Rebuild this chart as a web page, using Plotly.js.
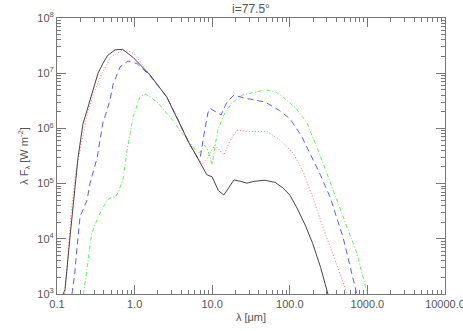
<!DOCTYPE html>
<html>
<head>
<meta charset="utf-8">
<script src="https://cdn.plot.ly/plotly-3.0.1.min.js"></script>
<style>
  body { margin: 0; background: #fff; }
  #plot { width: 463px; height: 331px; }
</style>
</head>
<body>
<div id="plot"></div>
<script>
// wavelength (micron) and lambda*F_lambda (W m^-2)

const lamBlack = [0.12, 0.127, 0.147, 0.171, 0.187, 0.216, 0.251, 0.30, 0.338, 0.39, 0.45, 0.56, 0.70, 0.95, 1.58, 2.6, 3.86, 5.0, 6.5, 7.5, 8.5, 10, 10.8, 12, 14.1, 16, 19.1, 23, 28, 35, 48, 65, 82, 100, 124, 160, 197, 250, 310];
const fBlack   = [1e3, 1.2e3, 1.07e4, 1.0e5, 3.0e5, 1.2e6, 2.5e6, 5.5e6, 1e7, 1.5e7, 2.1e7, 2.65e7, 2.7e7, 1.95e7, 9.3e6, 3.7e6, 1.2e6, 5.5e5, 2.9e5, 2.0e5, 1.45e5, 1.32e5, 1.02e5, 7.5e4, 6.2e4, 8e4, 1.17e5, 1.1e5, 1.02e5, 1.1e5, 1.15e5, 1.05e5, 8.3e4, 6.2e4, 3.6e4, 1.7e4, 8.3e3, 3.0e3, 1e3];

const lamRed = [0.125, 0.135, 0.15, 0.175, 0.21, 0.25, 0.3, 0.38, 0.5, 0.69, 0.85, 1.0, 1.58, 2.6, 3.86, 5.0, 6.5, 7.6, 8.8, 10.8, 12.5, 14.1, 17, 20.8, 30, 51, 74, 110, 150, 197, 260, 350, 450, 550];
const fRed   = [1e3, 3e3, 2.5e4, 1.7e5, 6e5, 2e6, 4.5e6, 1e7, 2e7, 2.6e7, 2.5e7, 2.2e7, 9.3e6, 3.7e6, 1.2e6, 5.5e5, 2.9e5, 2.2e5, 3.0e5, 5.0e5, 4.0e5, 3.3e5, 6e5, 9.3e5, 8.8e5, 8.8e5, 6.2e5, 3.6e5, 1.6e5, 5.7e4, 1.8e4, 5.5e3, 2.2e3, 1e3];

const lamBlue = [0.156, 0.17, 0.18, 0.198, 0.244, 0.266, 0.33, 0.39, 0.44, 0.48, 0.53, 0.65, 0.82, 1.07, 1.58, 2.6, 3.86, 5.0, 6.5, 7.0, 8.0, 8.8, 9.4, 10.5, 13, 15.5, 19, 25, 32, 48, 74, 100, 140, 182, 250, 330, 485, 730];
const fBlue   = [1e3, 2.5e3, 6.3e3, 2.5e4, 5e4, 1e5, 3e5, 1.26e6, 2.1e6, 3.2e6, 6.4e6, 1.3e7, 1.66e7, 1.5e7, 9.0e6, 3.7e6, 1.2e6, 5.5e5, 2.9e5, 2.9e5, 9.3e5, 1.9e6, 2.3e6, 2.1e6, 1.75e6, 3e6, 4e6, 3.6e6, 3.4e6, 3.0e6, 2.1e6, 1.5e6, 7.5e5, 3.6e5, 1.4e5, 5.7e4, 1.07e4, 1e3];

const lamGreen = [0.22, 0.244, 0.28, 0.338, 0.44, 0.51, 0.56, 0.61, 0.71, 0.8, 0.95, 1.17, 1.36, 1.6, 2.0, 3.1, 3.86, 5.5, 6.3, 7.0, 8.0, 8.8, 10, 10.8, 11.8, 14.5, 18, 24.3, 35.5, 48, 65, 82, 120, 165, 270, 485, 730, 1000];
const fGreen   = [1e3, 3.1e3, 1.26e4, 2.45e4, 5e4, 5.7e4, 5.7e4, 6.8e4, 1.2e5, 4e5, 1.55e6, 3.7e6, 4.2e6, 3.7e6, 2.9e6, 1.4e6, 9e5, 5e5, 3.7e5, 3.7e5, 5e5, 4e5, 2.2e5, 4.5e5, 9.3e5, 1.9e6, 2.9e6, 4e6, 4.6e6, 5e6, 4.6e6, 3.7e6, 2.3e6, 1.3e6, 2.3e5, 2.45e4, 5.5e3, 1e3];

const xTickVals = [0.1, 1, 10, 100, 1000, 10000];
const xTickText = ["0.1", "1.0", "10.0", "100.0", "1000.0", "10000.0"];
const yTickVals = [1e3, 1e4, 1e5, 1e6, 1e7, 1e8];
const yTickText = ["10<sup>3</sup>", "10<sup>4</sup>", "10<sup>5</sup>", "10<sup>6</sup>", "10<sup>7</sup>", "10<sup>8</sup>"];

const axisGrey = "#777";
const textGrey = "#555";
const fontFam = "Liberation Sans, Arial, sans-serif";

function line(x, y, color, dash){
    return {
        type: "scatter", mode: "lines", x: x, y: y,
        line: { color: color, width: 1, dash: dash },
        showlegend: false, hoverinfo: "skip",
    };
}

const traces = [
    line(lamGreen, fGreen, "#66ee66", "4px,2px,1px,2px"),
    line(lamBlue, fBlue, "#5a5aff", "6px,4px"),
    line(lamRed, fRed, "#ff7070", "1px,2px"),
    line(lamBlack, fBlack, "#444", "solid"),
];

const commonAxis = {
    showline: true, linecolor: axisGrey, linewidth: 1,
    mirror: "ticks", ticks: "inside", ticklen: 9, tickcolor: axisGrey,
    showgrid: false, zeroline: false,
    ticklabeloverflow: "allow",
    tickfont: { family: fontFam, size: 11, color: textGrey },
    minor: { ticks: "inside", ticklen: 4, tickcolor: axisGrey, dtick: "D1", showgrid: false },
};

const layout = {
    width: 463, height: 331,
    margin: { l: 57, r: 18, t: 18, b: 37, pad: 0 },
    paper_bgcolor: "#fff", plot_bgcolor: "#fff",
    title: { text: "i=77.5°", x: 0.542, xanchor: "center", y: 0.985, yanchor: "top",
             font: { family: fontFam, size: 12, color: textGrey } },
    xaxis: Object.assign({}, commonAxis, {
        type: "log", range: [-1, 4],
        tickvals: xTickVals, ticktext: xTickText,
        title: { text: "λ [μm]", standoff: 4, font: { family: fontFam, size: 11, color: textGrey } },
    }),
    yaxis: Object.assign({}, commonAxis, {
        type: "log", range: [3, 8],
        tickvals: yTickVals, ticktext: yTickText,
        title: { text: "λ F<sub>λ</sub> [W m<sup>-2</sup>]", standoff: 6,
                 font: { family: fontFam, size: 11, color: textGrey } },
    }),
};

Plotly.newPlot("plot", traces, layout, { displayModeBar: false, staticPlot: true });
</script>
</body>
</html>
